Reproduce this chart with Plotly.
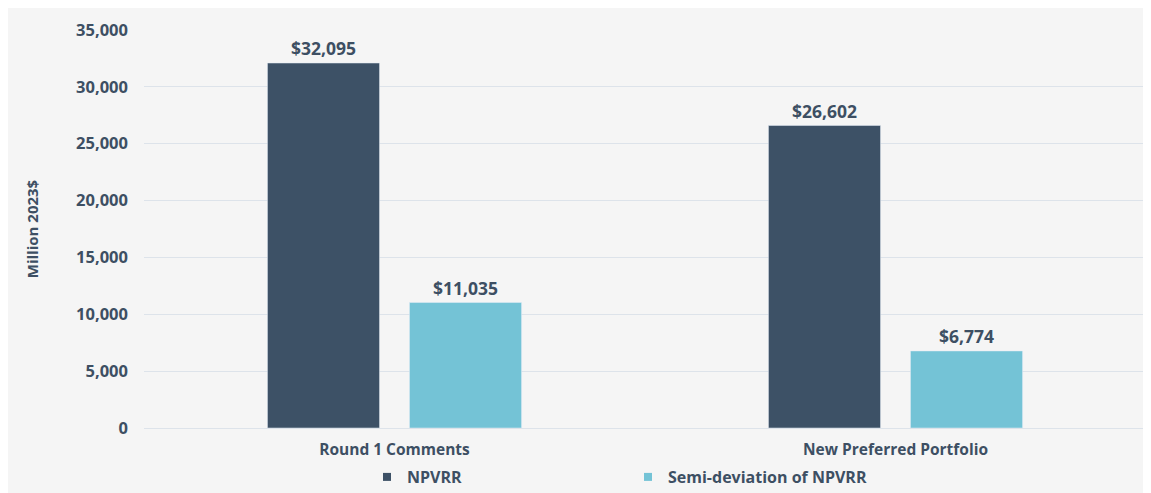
import plotly.graph_objects as go

categories = ["Round 1 Comments", "New Preferred Portfolio"]
npvrr = [32095, 26602]
semi_dev = [11035, 6774]
series_names = ["NPVRR", "Semi-deviation of NPVRR"]
series_colors = ["#3d5166", "#74c3d6"]
tick_vals = [0, 5000, 10000, 15000, 20000, 25000, 30000, 35000]

W, H = 1143, 485
ML, MR, MT, MB = 136, 5, 22, 65

txt = "#3d4f63"
font_fam = "'Open Sans', Lato, sans-serif"

fig = go.Figure()
for name, vals, col in zip(series_names, [npvrr, semi_dev], series_colors):
    fig.add_bar(x=categories, y=vals, name=name, marker_color=col, showlegend=False,
                text=[f"${v:,.0f}" for v in vals], textposition="outside", cliponaxis=False,
                textfont=dict(size=17.5, color=txt, family=font_fam, weight="bold"))
# legend entries with small square swatches
for name, col in zip(series_names, series_colors):
    fig.add_scatter(x=[None], y=[None], mode="markers", name=name,
                    marker=dict(symbol="square", size=8, color=col))

fig.update_layout(
    width=W, height=H,
    margin=dict(l=ML, r=MR, t=MT, b=MB, autoexpand=False),
    paper_bgcolor="#f5f5f5", plot_bgcolor="#f5f5f5",
    barmode="group", bargap=0.433, bargroupgap=0.211,
    font=dict(family=font_fam, color=txt, size=15, weight="bold"),
    showlegend=True,
    legend=dict(orientation="h", xref="container", yref="container",
                x=359 / W, xanchor="left", y=1 - 469 / H, yanchor="middle",
                font=dict(size=16, color=txt, weight="bold"), entrywidth=216,
                bgcolor="rgba(0,0,0,0)", traceorder="normal"),
)
fig.update_yaxes(range=[0, 35000], tickvals=tick_vals, tickformat=",d",
                 showgrid=True, gridcolor="#dde3ea", gridwidth=1,
                 zeroline=True, zerolinecolor="#dde3ea", zerolinewidth=1,
                 ticks="", ticklabelstandoff=15,
                 tickfont=dict(size=16.5, color=txt, weight="bold"),
                 title=dict(text="Million 2023$", standoff=33,
                            font=dict(size=15, color=txt, weight="bold")),
                 fixedrange=True)
fig.update_xaxes(showgrid=False, showline=False, ticks="", ticklabelstandoff=10,
                 tickfont=dict(size=15.5, color=txt, weight="bold"))

fig.write_html("out.html")
